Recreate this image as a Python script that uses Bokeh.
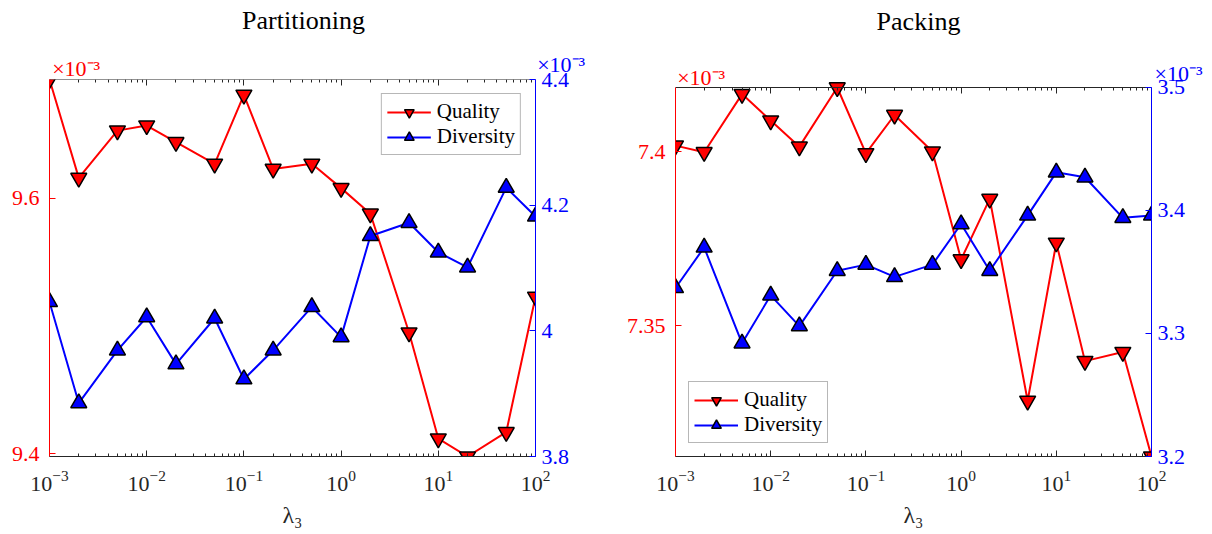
import math
from bokeh.plotting import figure
from bokeh.models import (Range1d, LinearAxis, LogAxis, FixedTicker, Label, Legend,
                          LegendItem, LogTickFormatter, CustomJSTickFormatter)
from bokeh.layouts import row
from bokeh.embed import file_html
from bokeh.resources import INLINE

# ---------------- data (values are x10^-3) ----------------
lam = [1e-3, 2e-3, 5e-3, 1e-2, 2e-2, 5e-2, 0.1, 0.2, 0.5, 1, 2, 5, 10, 20, 50, 100]

part_quality = [9.693, 9.616, 9.653, 9.657, 9.644, 9.627, 9.681, 9.623,
                9.627, 9.608, 9.588, 9.495, 9.412, 9.398, 9.417, 9.523]
part_diversity = [4.046, 3.885, 3.969, 4.022, 3.947, 4.020, 3.923, 3.969,
                  4.038, 3.990, 4.151, 4.172, 4.125, 4.101, 4.228, 4.182]

pack_quality = [7.4017, 7.3998, 7.4165, 7.4089, 7.4014, 7.4184, 7.3995, 7.4105,
                7.4000, 7.3690, 7.3864, 7.3284, 7.3738, 7.3398, 7.3424, 7.3124]
pack_diversity = [3.337, 3.370, 3.292, 3.331, 3.306, 3.351, 3.356, 3.346,
                  3.356, 3.389, 3.351, 3.396, 3.431, 3.427, 3.394, 3.396]

x_major_ticks = [1e-3, 1e-2, 1e-1, 1e0, 1e1, 1e2]
x_minor_ticks = [m * d for d in [1e-3, 1e-2, 1e-1, 1e0, 1e1] for m in range(2, 10)]

part_q_ticks = [9.4, 9.6]
part_d_ticks = [3.8, 4.0, 4.2, 4.4]
part_d_range = (3.8, 4.4)
pack_q_ticks = [7.35, 7.4]
pack_d_ticks = [3.2, 3.3, 3.4, 3.5]
pack_d_range = (3.2, 3.5)

titles = ["Partitioning", "Packing"]
legend_labels = ["Quality", "Diversity"]
exp_text = "\u00d710\u207b\u00b3"
x_label = "\u03bb\u2083"

FONT = "Liberation Serif"
RED = "#ff0000"
BLUE = "#0000ff"
AX = "#262626"
TICK_SIZE = "22px"

FIG_H = 534
TOP = 78      # frame top border (both figures)
BOTTOM = 78   # frame bottom border (both figures)
LH = 0.5      # compact line height for labels in side panels
# empirical baseline corrections (px): text is drawn this much lower than asked
CORR_TITLE, CORR_EXP = 9.5, 5.5


def panel(title, q, d, q_ticks, d_ticks, d_range, width, mb_left, mb_right,
          box_drop, legend_loc, legend_margin, title_pos, red_pos, blue_pos, blue_side):
    fw = width - mb_left - mb_right
    fh = FIG_H - TOP - BOTTOM
    bh = fh - box_drop                      # height of the axes box inside the frame
    y0, y1 = min(q), max(q)
    x0, x1 = lam[0], lam[-1]
    y_top = y1 + box_drop * (y1 - y0) / bh
    d0, d1 = d_range
    d_top = d1 + box_drop * (d1 - d0) / bh
    p = figure(width=width, height=FIG_H, x_axis_type="log",
               x_range=Range1d(x0, x1), y_range=Range1d(y0, y_top),
               output_backend="svg", toolbar_location=None,
               min_border_left=mb_left, min_border_right=mb_right,
               min_border_top=TOP, min_border_bottom=BOTTOM)
    p.outline_line_color = None
    p.xgrid.visible = False
    p.ygrid.visible = False
    p.extra_y_ranges = {"div": Range1d(d0, d_top)}

    def dx(px):
        return 10 ** (math.log10(x0) + px * math.log10(x1 / x0) / fw)

    def dy_above(px):   # px above the box top
        return y1 + px * (y1 - y0) / bh

    fmt = CustomJSTickFormatter(code="return String(tick)")

    # bottom x axis
    xa = p.xaxis[0]
    xa.ticker = FixedTicker(ticks=x_major_ticks, minor_ticks=x_minor_ticks)
    xa.formatter = LogTickFormatter()
    xa.axis_line_color = AX
    xa.major_tick_line_color = AX
    xa.minor_tick_line_color = AX
    xa.major_tick_in = 6
    xa.major_tick_out = 0
    xa.minor_tick_in = 3
    xa.minor_tick_out = 0
    xa.major_label_text_font = FONT
    xa.major_label_text_font_size = TICK_SIZE
    xa.major_label_text_color = AX
    xa.major_label_standoff = 14
    xa.axis_label = x_label
    xa.axis_label_text_font = FONT
    xa.axis_label_text_font_style = "normal"
    xa.axis_label_text_font_size = "24px"
    xa.axis_label_text_color = AX
    xa.axis_label_standoff = 8

    # top x axis (box edge), placed at the top of the data box
    ta = LogAxis(ticker=FixedTicker(ticks=x_major_ticks, minor_ticks=x_minor_ticks),
                 fixed_location=y1,
                 axis_line_color=AX, major_tick_line_color=AX, minor_tick_line_color=AX,
                 major_tick_in=6, major_tick_out=0, minor_tick_in=3, minor_tick_out=0,
                 major_label_text_alpha=0, major_label_text_font_size="0px",
                 major_label_standoff=0)
    p.add_layout(ta, "above")

    # left y axis (Quality, red)
    ya = p.yaxis[0]
    ya.ticker = FixedTicker(ticks=q_ticks)
    ya.formatter = fmt
    ya.bounds = (y0, y1)
    ya.axis_line_color = RED
    ya.major_tick_line_color = RED
    ya.major_tick_in = 6
    ya.major_tick_out = 0
    ya.minor_tick_line_color = None
    ya.major_label_text_font = FONT
    ya.major_label_text_font_size = TICK_SIZE
    ya.major_label_text_color = RED
    ya.major_label_standoff = 10

    # right y axis (Diversity, blue)
    ra = LinearAxis(y_range_name="div", ticker=FixedTicker(ticks=d_ticks), formatter=fmt,
                    bounds=(d0, d1),
                    axis_line_color=BLUE, major_tick_line_color=BLUE,
                    major_tick_in=6, major_tick_out=0, minor_tick_line_color=None,
                    major_label_text_font=FONT, major_label_text_font_size=TICK_SIZE,
                    major_label_text_color=BLUE, major_label_standoff=6)
    p.add_layout(ra, "right")

    # data
    lq = p.line(lam, q, line_color=RED, line_width=2)
    sq = p.scatter(lam, q, marker="inverted_triangle", size=16, fill_color=RED,
                   line_color="black", line_width=1.5)
    ld = p.line(lam, d, line_color=BLUE, line_width=2, y_range_name="div")
    sd = p.scatter(lam, d, marker="triangle", size=16, fill_color=BLUE,
                   line_color="black", line_width=1.5, y_range_name="div")

    lg_margin = legend_margin + (box_drop if "top" in legend_loc else 0)
    legend = Legend(items=[LegendItem(label=legend_labels[0], renderers=[lq, sq]),
                           LegendItem(label=legend_labels[1], renderers=[ld, sd])],
                    location=legend_loc, margin=lg_margin,
                    label_text_font=FONT, label_text_font_size="21px",
                    label_text_color="black",
                    glyph_width=44, glyph_height=24, label_height=24,
                    label_standoff=6, padding=5, spacing=0,
                    border_line_color="#707070", border_line_width=1,
                    background_fill_color="white", background_fill_alpha=1)
    p.add_layout(legend)

    # "x10^-3" exponent labels and title, in side panels (not clipped by the frame)
    for (ex, ey), col, side in [(red_pos, RED, "above"), (blue_pos, BLUE, blue_side)]:
        p.add_layout(Label(x=dx(ex), y=dy_above(ey + CORR_EXP), text=exp_text,
                           text_font=FONT, text_font_size="22px", text_line_height=LH,
                           text_color=col, text_baseline="alphabetic"), side)
    p.add_layout(Label(x=dx(title_pos[0]), y=dy_above(title_pos[1] + CORR_TITLE),
                       text=title, text_font=FONT, text_font_size="26px",
                       text_line_height=LH, text_color="black", text_align="center",
                       text_baseline="alphabetic"), "above")
    return p


p1 = panel(titles[0], part_quality, part_diversity, part_q_ticks, part_d_ticks,
           part_d_range, 620, 49, 85, 0, "top_right", 14,
           (254, 49.5), (2.7, 6), (487.7, 10), "right")
p2 = panel(titles[1], pack_quality, pack_diversity, pack_q_ticks, pack_d_ticks,
           pack_d_range, 592, 55, 61, 8, "bottom_left", 13,
           (243, 56.5), (1.7, 4.3), (479, 9), "above")

layout = row(p1, p2)
open("out.html", "w").write(file_html(layout, INLINE))
